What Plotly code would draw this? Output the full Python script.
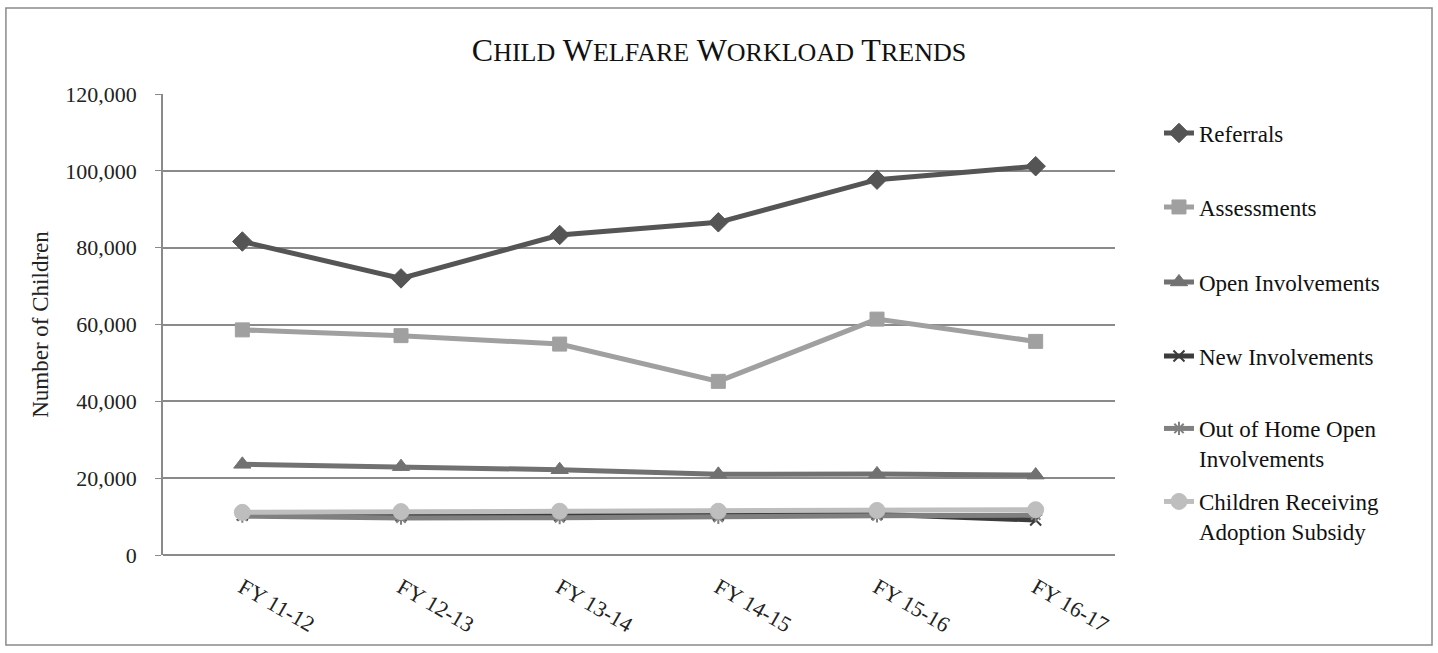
import plotly.graph_objects as go

years = ["FY 11-12", "FY 12-13", "FY 13-14", "FY 14-15", "FY 15-16", "FY 16-17"]
referrals = [81600, 72000, 83300, 86600, 97700, 101200]
assessments = [58600, 57100, 54900, 45200, 61400, 55600]
open_inv = [23600, 23000, 22200, 21000, 21100, 20800]
new_inv = [10400, 10200, 10300, 10400, 10600, 9100]
out_home = [10100, 9600, 9700, 9800, 10200, 10400]
adoption = [11100, 11300, 11400, 11400, 11600, 11800]

names = ["Referrals", "Assessments", "Open Involvements", "New Involvements",
         "Out of Home Open<br>Involvements", "Children Receiving<br>Adoption Subsidy"]
values = [referrals, assessments, open_inv, new_inv, out_home, adoption]
colors = ["#555555", "#a0a0a0", "#717171", "#3c3c3c", "#808080", "#bebebe"]
symbols = ["diamond", "square", "triangle-up", "x-thin-open", "asterisk-open", "circle"]
sizes = [15, 14, 15, 11, 11, 16]
legend_y = [0.9154, 0.7549, 0.5922, 0.4317, 0.2419, 0.0835]

font_family = "Liberation Serif, Times New Roman, serif"

fig = go.Figure()
for i in range(6):
    lg = "legend" if i == 0 else f"legend{i+1}"
    lw = 2 if symbols[i].endswith("open") else 1
    fig.add_trace(go.Scatter(
        x=years, y=values[i], name=names[i], mode="lines+markers",
        line=dict(color=colors[i], width=5),
        marker=dict(symbol=symbols[i], size=sizes[i], color=colors[i],
                    line=dict(color=colors[i], width=lw)),
        legend=lg,
    ))

legend_common = dict(
    x=1.0462, xanchor="left", yanchor="middle", valign="top",
    font=dict(size=23, family=font_family, color="#111111"),
    bgcolor="rgba(0,0,0,0)", itemwidth=30,
)
legends = {}
for i in range(6):
    key = "legend" if i == 0 else f"legend{i+1}"
    legends[key] = dict(legend_common, y=legend_y[i])

fig.update_layout(
    width=1438, height=653,
    margin=dict(l=163, r=323, t=94, b=98),
    paper_bgcolor="white", plot_bgcolor="white",
    font=dict(family=font_family, color="#222222", size=21),
    title=dict(
        text="C<span style='font-size:26px'>HILD</span> W<span style='font-size:26px'>ELFARE</span> "
             "W<span style='font-size:26px'>ORKLOAD</span> T<span style='font-size:26px'>RENDS</span>",
        x=0.5, xref="container", y=0.923, yref="container", xanchor="center", yanchor="middle",
        font=dict(size=32, family=font_family, color="#111111"),
    ),
    showlegend=True,
    xaxis=dict(
        type="category", tickangle=30, showgrid=False, showline=False,
        ticks="outside", ticklen=10, tickcolor="rgba(0,0,0,0)",
        tickfont=dict(size=22, family=font_family, color="#222222"),
        range=[-0.5, 5.5],
    ),
    yaxis=dict(
        range=[0, 120000], dtick=20000, tickformat=",d",
        showgrid=True, gridcolor="#8a8a8a", gridwidth=1.5,
        showline=True, linecolor="#8a8a8a", linewidth=1.5,
        ticks="outside", ticklen=6, tickcolor="#8a8a8a",
        ticklabelstandoff=14,
        zeroline=True, zerolinecolor="#8a8a8a", zerolinewidth=1.5,
        title=dict(text="Number of Children", font=dict(size=23, family=font_family, color="#222222"), standoff=10),
        tickfont=dict(size=22, family=font_family, color="#222222"),
    ),
    shapes=[dict(type="rect", xref="paper", yref="paper",
                 x0=-0.165, x1=1.333, y0=-0.195, y1=1.1866,
                 line=dict(color="#8a8a8a", width=1.5))],
    **legends,
)

fig.write_html("out.html", post_script="document.body.style.margin='0';",
               config={"displayModeBar": False})
